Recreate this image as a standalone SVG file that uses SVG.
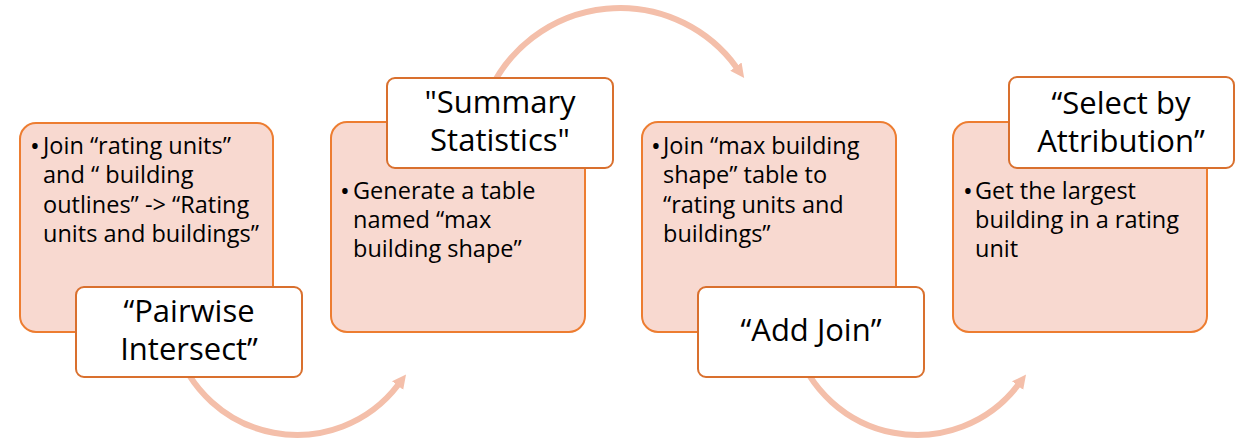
<svg xmlns="http://www.w3.org/2000/svg" width="1238" height="441" viewBox="0 0 1238 441">
  <style>
    .card { fill: #F8D9D0; stroke: #ED7D31; stroke-width: 2; }
    .label { fill: #FFFFFF; stroke: #D9702E; stroke-width: 2; }
    .body { font-family: "Open Sans", Lato, "Liberation Sans", sans-serif; font-size: 23.5px; fill: #000000; }
    .bullet { font-family: "Open Sans", Lato, "Liberation Sans", sans-serif; font-size: 26px; fill: #000000; }
    .title { font-family: "Open Sans", Lato, "Liberation Sans", sans-serif; font-size: 31px; fill: #000000; text-anchor: middle; }
    .arc { fill: none; stroke: #F4BFAA; stroke-width: 6; }
  </style>
  <defs>
    <marker id="head" markerUnits="userSpaceOnUse" markerWidth="16" markerHeight="16" refX="1" refY="8" orient="auto">
      <path d="M0,1 L14,8 L0,15 Z" fill="#F4BFAA"/>
    </marker>
  </defs>
  <rect width="1238" height="441" fill="#FFFFFF"/>

  <g id="connectors">
    <path class="arc" d="M 175 343 A 127 127 0 0 0 398.2 384.8" marker-end="url(#head)"/>
    <path class="arc" d="M 489.5 91.1 A 144 144 0 0 1 736.5 67.4" marker-end="url(#head)"/>
    <path class="arc" d="M 795 343 A 127 127 0 0 0 1018.2 384.8" marker-end="url(#head)"/>
  </g>

  <g id="node-pairwise">
    <rect class="card" x="20" y="123" width="253" height="209" rx="16"/>
    <text class="bullet" x="30" y="155">•</text>
    <text class="body" x="43" y="154">Join “rating units”</text>
    <text class="body" x="43" y="183">and “ building</text>
    <text class="body" x="43" y="213">outlines” -&gt;  “Rating</text>
    <text class="body" x="43" y="242">units and buildings”</text>
    <rect class="label" x="76" y="287" width="226" height="90" rx="8"/>
    <text class="title" x="189" y="322">“Pairwise</text>
    <text class="title" x="189" y="360">Intersect”</text>
  </g>

  <g id="node-summary">
    <rect class="card" x="331" y="122" width="254" height="210" rx="16"/>
    <text class="bullet" x="340" y="200">•</text>
    <text class="body" x="353" y="199">Generate a table</text>
    <text class="body" x="353" y="228">named “max</text>
    <text class="body" x="353" y="257">building shape”</text>
    <rect class="label" x="387" y="78" width="226" height="90" rx="8"/>
    <text class="title" x="500" y="113">"Summary</text>
    <text class="title" x="500" y="151">Statistics"</text>
  </g>

  <g id="node-addjoin">
    <rect class="card" x="642" y="122" width="254" height="210" rx="16"/>
    <text class="bullet" x="651" y="155">•</text>
    <text class="body" x="663" y="154">Join “max building</text>
    <text class="body" x="663" y="183">shape” table to</text>
    <text class="body" x="663" y="213">“rating units and</text>
    <text class="body" x="663" y="242">buildings”</text>
    <rect class="label" x="698" y="287" width="226" height="90" rx="8"/>
    <text class="title" x="811" y="341">“Add Join”</text>
  </g>

  <g id="node-select">
    <rect class="card" x="953" y="122" width="254" height="210" rx="16"/>
    <text class="bullet" x="963" y="200">•</text>
    <text class="body" x="975" y="199">Get the largest</text>
    <text class="body" x="975" y="228">building in a rating</text>
    <text class="body" x="975" y="257">unit</text>
    <rect class="label" x="1009" y="77" width="225" height="91" rx="8"/>
    <text class="title" x="1121" y="114">“Select by</text>
    <text class="title" x="1121" y="152">Attribution”</text>
  </g>
</svg>
